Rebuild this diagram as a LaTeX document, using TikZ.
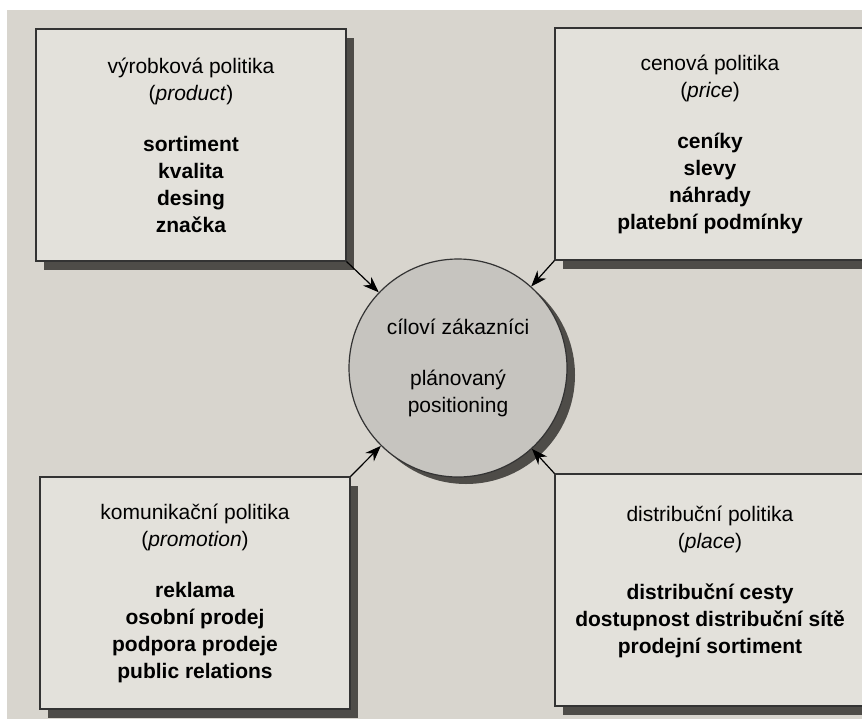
\documentclass[tikz,border=0pt]{standalone}
\usepackage{fontspec}
\setmainfont{Liberation Sans}
\usepackage{tikz}
\usetikzlibrary{shadows,arrows.meta}

\definecolor{page}{RGB}{216,213,206}
\definecolor{boxfill}{RGB}{227,225,219}
\definecolor{ballfill}{RGB}{198,196,191}
\definecolor{shade}{RGB}{78,76,72}

\begin{document}
\begin{tikzpicture}[x=0.5pt,y=-0.5pt,
	mixbox/.style={draw=black!80,line width=0.6pt,fill=boxfill,
		minimum width=155pt,minimum height=116pt,align=center,
		font=\fontsize{10.5}{13.5}\selectfont,
		drop shadow={shadow xshift=4pt,shadow yshift=-4.5pt,fill=shade,opacity=1}},
	target/.style={circle,draw=black!80,line width=0.6pt,fill=ballfill,
		minimum size=109pt,align=center,
		font=\fontsize{10.5}{13.5}\selectfont,
		drop shadow={shadow xshift=4pt,shadow yshift=-3.5pt,fill=shade,opacity=1}},
	>={Stealth[length=8pt,width=6pt]}]
	    \useasboundingbox (0,0) rectangle (862,719);
	    \fill[white] (0,0) rectangle (862,719);
	    \fill[page] (7,10) rectangle (862,719);
	    
	    \node[mixbox] at (191,145) (prod) {výrobková politika\\(\textit{product})\\[12pt]
	    	\textbf{sortiment}\\\textbf{kvalita}\\\textbf{desing}\\\textbf{značka}};
	    \node[mixbox] at (710,144) (price) {cenová politika\\(\textit{price})\\[12pt]
	    	\textbf{ceníky}\\\textbf{slevy}\\\textbf{náhrady}\\\textbf{platební podmínky}};
	    \node[mixbox] at (195,593) (prom) {komunikační politika\\(\textit{promotion})\\[12pt]
	    	\textbf{reklama}\\\textbf{osobní prodej}\\\textbf{podpora prodeje}\\\textbf{public relations}};
	    \node[mixbox] at (710,590) (place) {distribuční politika\\(\textit{place})\\[12pt]
	    	\textbf{distribuční cesty}\\\textbf{dostupnost distribuční sítě}\\\textbf{prodejní sortiment}\\[-3.5pt]\mbox{}};
	    \node[target] at (458,368) (circ) {cíloví zákazníci\\[12pt]plánovaný\\positioning};
	    
	    \path[->,line width=0.6pt] (prod.south east) edge (circ);
	    \path[->,line width=0.6pt] (price.south west) edge (circ);
	    \path[->,line width=0.6pt] (prom.north east) edge (circ);
	    \path[->,line width=0.6pt] (place.north west) edge (circ);
	\end{tikzpicture}
\end{document}
